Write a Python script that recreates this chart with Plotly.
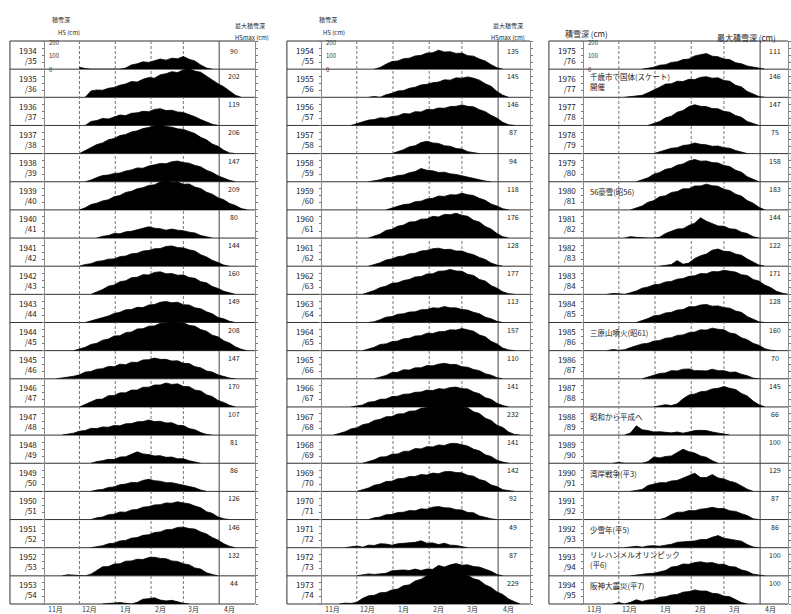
import plotly.graph_objects as go

# ---------------------------------------------------------------------------
# Winter seasons (first year of each season), shown as "1934 / 35" etc.
# ---------------------------------------------------------------------------
years_a = [1934, 1935, 1936, 1937, 1938, 1939, 1940, 1941, 1942, 1943,
           1944, 1945, 1946, 1947, 1948, 1949, 1950, 1951, 1952, 1953]
years_b = [1954, 1955, 1956, 1957, 1958, 1959, 1960, 1961, 1962, 1963,
           1964, 1965, 1966, 1967, 1968, 1969, 1970, 1971, 1972, 1973]
years_c = [1975, 1976, 1977, 1978, 1979, 1980, 1981, 1982, 1983, 1984,
           1985, 1986, 1987, 1988, 1989, 1990, 1991, 1992, 1993, 1994]

# Seasonal maximum snow depth HSmax (cm)
hsmax_a = [90, 202, 119, 206, 147, 209, 80, 144, 160, 149,
           208, 147, 170, 107, 81, 86, 126, 146, 132, 44]
hsmax_b = [135, 145, 146, 87, 94, 118, 176, 128, 177, 113,
           157, 110, 141, 232, 141, 142, 92, 49, 87, 229]
hsmax_c = [111, 146, 147, 75, 158, 183, 144, 122, 171, 128,
           160, 70, 145, 66, 100, 129, 87, 86, 100, 100]

# Snow depth HS (cm), one value every 5 days, first value on day `start`
# (day 0 = 1 November).
start_a = [30, 35, 35, 30, 35, 30, 45, 30, 40, 35, 25, 10, 30, 15, 40, 40, 40, 40, 15, 50]
depth_a = [
    [14, 4, 0, 0, 0, 0, 0, 0, 8, 30, 38, 52, 48, 62, 72, 64, 78, 74, 90, 70, 58, 30, 8, 0],
    [0, 45, 52, 50, 64, 70, 86, 95, 112, 108, 128, 140, 136, 160, 168, 182, 176, 195, 202, 186, 178, 150, 128, 96, 75, 42, 15, 0],
    [0, 28, 35, 50, 46, 62, 74, 70, 86, 90, 100, 98, 114, 119, 106, 108, 96, 92, 78, 62, 42, 25, 8, 0],
    [0, 22, 40, 64, 76, 98, 108, 128, 136, 154, 162, 178, 186, 200, 206, 192, 188, 176, 172, 156, 142, 116, 98, 68, 52, 24, 5, 0],
    [0, 12, 30, 44, 48, 58, 62, 76, 84, 98, 96, 112, 120, 130, 128, 142, 147, 136, 132, 116, 106, 82, 66, 42, 26, 10, 0],
    [0, 15, 38, 48, 64, 72, 94, 102, 124, 132, 150, 158, 174, 178, 198, 209, 196, 198, 182, 184, 162, 152, 126, 112, 86, 72, 46, 32, 10, 0],
    [0, 12, 18, 32, 30, 44, 48, 58, 68, 80, 70, 66, 56, 64, 56, 52, 42, 36, 18, 8, 0],
    [0, 12, 18, 34, 38, 50, 52, 68, 72, 88, 92, 108, 112, 124, 126, 140, 144, 132, 130, 116, 108, 82, 66, 42, 26, 8, 0],
    [0, 18, 34, 58, 66, 90, 96, 118, 122, 140, 138, 156, 160, 146, 148, 136, 138, 120, 114, 90, 82, 56, 42, 22, 10, 0],
    [0, 12, 22, 38, 46, 64, 72, 90, 92, 108, 106, 124, 128, 144, 149, 140, 144, 126, 124, 104, 98, 76, 62, 36, 26, 8, 0],
    [0, 12, 24, 44, 52, 74, 82, 104, 106, 128, 132, 154, 156, 174, 176, 194, 196, 208, 198, 198, 180, 174, 150, 138, 110, 98, 70, 54, 28, 10, 0],
    [0, 6, 8, 18, 28, 48, 52, 68, 72, 88, 86, 104, 100, 118, 116, 134, 136, 147, 138, 138, 126, 128, 110, 108, 86, 78, 56, 48, 28, 16, 5, 0],
    [0, 18, 32, 54, 56, 80, 82, 100, 100, 120, 120, 140, 140, 156, 156, 170, 160, 164, 146, 144, 120, 114, 86, 74, 46, 32, 12, 0],
    [0, 6, 14, 28, 32, 48, 46, 58, 56, 68, 66, 80, 82, 94, 96, 107, 96, 98, 86, 88, 70, 68, 46, 38, 18, 5, 0],
    [0, 12, 18, 28, 26, 44, 46, 64, 81, 66, 62, 52, 54, 42, 44, 32, 32, 18, 10, 0],
    [0, 10, 14, 28, 32, 48, 52, 64, 62, 78, 86, 76, 72, 62, 62, 52, 46, 32, 26, 10, 0],
    [0, 12, 18, 34, 38, 54, 52, 68, 72, 88, 92, 104, 106, 118, 116, 126, 118, 112, 96, 84, 56, 44, 18, 5, 0],
    [0, 6, 14, 28, 32, 48, 52, 68, 72, 88, 92, 108, 112, 128, 130, 144, 146, 136, 132, 112, 98, 72, 54, 28, 10, 0],
    [0, 8, 5, 0, 0, 12, 40, 64, 66, 84, 86, 104, 106, 118, 116, 130, 132, 124, 122, 106, 102, 86, 78, 56, 48, 22, 10, 0],
    [0, 5, 8, 10, 5, 0, 12, 34, 38, 44, 28, 22, 26, 14, 5, 0],
]

start_b = [45, 40, 25, 60, 40, 55, 40, 40, 35, 40, 35, 45, 25, 10, 35, 30, 40, 20, 30, 15]
depth_b = [
    [0, 12, 35, 54, 58, 74, 78, 94, 98, 114, 116, 135, 122, 124, 112, 114, 96, 92, 72, 58, 32, 10, 0],
    [0, 5, 0, 18, 28, 44, 48, 64, 72, 88, 92, 104, 108, 124, 122, 138, 136, 145, 136, 122, 96, 78, 42, 15, 0],
    [0, 12, 24, 38, 42, 54, 52, 64, 68, 84, 82, 98, 96, 114, 112, 124, 122, 134, 136, 146, 136, 132, 112, 98, 72, 52, 22, 5, 0],
    [0, 12, 28, 48, 56, 78, 87, 76, 72, 56, 52, 36, 32, 14, 5, 0],
    [0, 6, 14, 28, 32, 44, 48, 64, 72, 94, 82, 78, 66, 68, 56, 52, 42, 36, 22, 16, 5, 0],
    [0, 12, 22, 38, 42, 58, 62, 78, 82, 98, 96, 108, 106, 118, 108, 102, 82, 68, 42, 28, 8, 0],
    [0, 12, 28, 54, 62, 84, 92, 114, 116, 134, 136, 154, 150, 168, 166, 176, 162, 154, 126, 114, 82, 64, 32, 10, 0],
    [0, 12, 24, 44, 52, 68, 72, 88, 92, 108, 112, 124, 128, 118, 120, 108, 108, 92, 82, 62, 48, 22, 8, 0],
    [0, 12, 28, 48, 58, 78, 82, 98, 106, 124, 126, 144, 146, 164, 166, 177, 166, 164, 142, 134, 106, 94, 62, 44, 18, 5, 0],
    [0, 6, 20, 38, 42, 58, 62, 74, 76, 90, 92, 104, 102, 113, 104, 104, 92, 88, 72, 62, 38, 26, 8, 0],
    [0, 12, 24, 44, 48, 64, 68, 84, 88, 104, 106, 124, 122, 134, 136, 148, 146, 157, 146, 138, 112, 98, 66, 48, 18, 5, 0],
    [0, 12, 24, 44, 46, 64, 62, 78, 78, 94, 92, 104, 110, 102, 102, 86, 82, 66, 58, 36, 26, 8, 0],
    [0, 6, 14, 34, 38, 54, 56, 74, 76, 90, 92, 104, 106, 120, 116, 130, 126, 138, 141, 130, 128, 106, 94, 66, 54, 26, 10, 0],
    [0, 12, 24, 44, 52, 74, 82, 104, 112, 130, 132, 150, 152, 170, 172, 190, 196, 218, 222, 232, 222, 218, 200, 194, 166, 154, 120, 104, 70, 54, 22, 5, 0],
    [0, 12, 24, 44, 46, 64, 66, 84, 86, 104, 102, 118, 116, 130, 126, 140, 141, 132, 122, 100, 88, 60, 48, 22, 8, 0],
    [0, 12, 24, 44, 52, 70, 72, 90, 92, 106, 106, 120, 116, 130, 126, 140, 142, 134, 132, 114, 108, 84, 74, 46, 34, 12, 5, 0],
    [0, 12, 18, 34, 36, 50, 52, 64, 62, 76, 74, 88, 92, 84, 82, 70, 68, 50, 48, 26, 16, 5, 0],
    [0, 6, 12, 4, 18, 16, 28, 26, 18, 28, 32, 34, 38, 49, 32, 34, 22, 32, 18, 16, 8, 0],
    [0, 6, 14, 10, 16, 18, 36, 38, 42, 38, 48, 38, 48, 46, 74, 62, 78, 87, 76, 78, 66, 62, 46, 32, 10, 0],
    [0, 6, 4, 12, 40, 58, 62, 80, 82, 100, 106, 130, 136, 164, 176, 200, 206, 224, 229, 222, 222, 206, 202, 180, 168, 136, 118, 86, 68, 36, 16, 0],
]

start_c = [50, 35, 55, 60, 45, 40, 35, 65, 20, 45, 20, 50, 60, 35, 25, 40, 65, 35, 40, 25]
depth_c = [
    [0, 6, 14, 28, 32, 48, 52, 68, 72, 94, 100, 111, 92, 88, 72, 68, 46, 38, 22, 14, 3, 0],
    [0, 6, 10, 14, 32, 55, 72, 94, 96, 114, 112, 128, 126, 142, 146, 136, 138, 120, 114, 86, 74, 42, 22, 5, 0],
    [0, 12, 28, 54, 66, 94, 106, 134, 147, 136, 134, 120, 118, 100, 94, 70, 58, 28, 12, 0],
    [0, 12, 22, 38, 42, 58, 62, 75, 66, 62, 52, 54, 42, 38, 22, 12, 0],
    [0, 12, 28, 54, 66, 88, 96, 118, 126, 148, 158, 146, 148, 136, 134, 116, 108, 82, 68, 36, 16, 0],
    [0, 12, 28, 54, 66, 94, 100, 124, 130, 150, 150, 170, 170, 183, 172, 168, 146, 138, 112, 98, 66, 48, 18, 0],
    [0, 10, 5, 0, 0, 0, 6, 32, 48, 64, 66, 90, 106, 144, 120, 104, 86, 84, 66, 62, 42, 32, 10, 0],
    [0, 8, 12, 40, 14, 22, 55, 74, 86, 114, 122, 106, 104, 86, 78, 52, 32, 8, 0],
    [0, 6, 4, 0, 12, 24, 44, 52, 68, 72, 88, 92, 108, 112, 128, 132, 148, 146, 162, 160, 171, 162, 158, 140, 134, 106, 94, 66, 48, 22, 8, 0],
    [0, 12, 28, 48, 52, 68, 72, 88, 92, 112, 112, 124, 128, 116, 118, 106, 102, 82, 72, 42, 22, 5, 0],
    [0, 8, 3, 6, 22, 34, 48, 52, 68, 72, 88, 92, 108, 112, 128, 132, 148, 146, 160, 152, 148, 126, 118, 92, 78, 52, 38, 14, 3, 0],
    [0, 12, 22, 38, 42, 58, 56, 68, 70, 58, 58, 56, 68, 58, 58, 46, 48, 32, 22, 5, 0],
    [0, 10, 16, 10, 22, 58, 84, 92, 108, 112, 128, 132, 145, 132, 124, 96, 78, 42, 16, 0],
    [0, 15, 66, 38, 32, 22, 24, 18, 16, 22, 14, 22, 32, 34, 32, 22, 16, 5, 0],
    [0, 6, 0, 0, 0, 0, 12, 45, 38, 48, 52, 78, 100, 82, 72, 52, 42, 18, 0],
    [0, 6, 14, 42, 52, 62, 62, 74, 78, 94, 108, 129, 98, 98, 120, 96, 88, 72, 62, 36, 16, 0],
    [0, 12, 35, 52, 52, 64, 62, 74, 78, 87, 78, 78, 62, 58, 42, 28, 5, 0],
    [0, 6, 10, 4, 12, 14, 10, 18, 24, 38, 42, 44, 48, 58, 58, 74, 86, 68, 62, 52, 46, 22, 5, 0],
    [0, 6, 10, 16, 18, 28, 38, 62, 68, 84, 82, 94, 100, 92, 94, 82, 82, 66, 62, 42, 32, 12, 5, 0],
    [0, 10, 0, 12, 30, 18, 28, 32, 48, 52, 64, 68, 84, 88, 100, 92, 92, 76, 72, 56, 52, 28, 10, 0],
]

# Notes written into the third column (row index -> text)
notes_c = {
    1: "千歳市で国体(スケート)<br>開催",
    5: "56豪雪(昭56)",
    10: "三原山噴火(昭61)",
    13: "昭和から平成へ",
    15: "湾岸戦争(平3)",
    17: "少雪年(平5)",
    18: "リレハンメルオリンピック<br>(平6)",
    19: "阪神大震災(平7)",
}

month_ticks = [9, 39, 70, 100, 129, 160]
month_labels = ["11月", "12月", "1月", "2月", "3月", "4月"]
month_starts = [30, 61, 92, 120]   # 1 Dec, 1 Jan, 1 Feb, 1 Mar
april_first = 151
scale_vals = [200, 100, 0]

# ---------------------------------------------------------------------------
W, H = 791, 614
TOP, BOTTOM, ROWS = 41, 604, 20
RH = (BOTTOM - TOP) / ROWS
FONT = "Noto Sans CJK JP, Noto Sans, sans-serif"


def px(x):
    return x / W


def py(y):
    return 1 - y / H


panels = [
    dict(years=years_a, hsmax=hsmax_a, start=start_a, depth=depth_a,
         left=10, nov1=45, apr1=220, right=256),
    dict(years=years_b, hsmax=hsmax_b, start=start_b, depth=depth_b,
         left=288, nov1=323, apr1=500, right=532),
    dict(years=years_c, hsmax=hsmax_c, start=start_c, depth=depth_c,
         left=551, nov1=586, apr1=763, right=791),
]

fig = go.Figure()
layout = {}
shapes = []
annotations = []

for p, cfg in enumerate(panels):
    xname = "x" if p == 0 else f"x{p + 1}"
    xkey = "xaxis" if p == 0 else f"xaxis{p + 1}"
    ppd = (cfg["apr1"] - cfg["nov1"]) / april_first
    right = min(cfg["right"], W)
    xmax = (right - cfg["nov1"]) / ppd

    layout[xkey] = dict(
        domain=[px(cfg["nov1"]), px(right)], range=[0, xmax],
        anchor=f"y{p * ROWS + ROWS}", showgrid=False, zeroline=False,
        showline=False, ticks="", showticklabels=False, fixedrange=True,
    )

    for i in range(ROWS):
        n = p * ROWS + i + 1
        ykey = "yaxis" if n == 1 else f"yaxis{n}"
        yname = "y" if n == 1 else f"y{n}"
        row_top = TOP + i * RH
        row_bot = row_top + RH
        if i == 0:
            dom = [py(row_bot), py(row_top)]
            yr = [0, 200]
        else:
            # let tall seasons rise a little into the row above
            dom = [py(row_bot), py(row_top - RH * 0.25)]
            yr = [0, 250]
        layout[ykey] = dict(
            domain=dom, range=yr, anchor=xname, showgrid=False, zeroline=False,
            showline=True, linecolor="#8a8a8a", linewidth=1, mirror="ticks",
            ticks="outside", ticklen=2, tickcolor="#777",
            tickvals=[0, 50, 100, 150, 200], showticklabels=False,
            fixedrange=True,
        )

        vals = cfg["depth"][i]
        days = [cfg["start"][i] + 5 * k for k in range(len(vals))]
        fig.add_trace(go.Scatter(
            x=days, y=vals, mode="lines", fill="tozeroy",
            line=dict(color="black", width=0.8), fillcolor="black",
            xaxis=xname, yaxis=yname, hoverinfo="skip", showlegend=False,
        ))

        y0 = cfg["years"][i]
        annotations.append(dict(
            xref="paper", yref="paper", x=px(cfg["nov1"] - 6), y=py(row_top + RH / 2),
            text=f"{y0}<br>/{(y0 + 1) % 100:02d}", showarrow=False,
            xanchor="right", yanchor="middle", align="right",
            font=dict(size=8, color="#222", family=FONT),
        ))
        annotations.append(dict(
            xref=xname, yref="paper", x=april_first + 15 / ppd,
            y=py(row_top + (10 if i == 0 else 7)),
            text=str(cfg["hsmax"][i]), showarrow=False, xanchor="center",
            yanchor="middle", font=dict(size=7, color="#222", family=FONT),
        ))

    # 0 / 100 / 200 cm scale inside the first row
    first_y = "y" if p == 0 else f"y{p * ROWS + 1}"
    for v in scale_vals:
        annotations.append(dict(
            xref=xname, yref=first_y, x=2 / ppd, y=min(v, 188), text=str(v),
            showarrow=False, xanchor="left", yanchor="middle",
            font=dict(size=6, color="#333", family=FONT),
        ))

    # month names under the panel
    for d, lab in zip(month_ticks, month_labels):
        annotations.append(dict(
            xref=xname, yref="paper", x=d, y=py(609), text=lab,
            showarrow=False, xanchor="center", yanchor="middle",
            font=dict(size=7, color="#333", family=FONT),
        ))

    # row separators and outer frame
    for i in range(ROWS + 1):
        yy = py(TOP + i * RH)
        shapes.append(dict(type="line", xref="paper", yref="paper",
                           x0=px(cfg["left"]), x1=px(right), y0=yy, y1=yy,
                           line=dict(color="#333", width=1), layer="below"))
    shapes.append(dict(type="line", xref="paper", yref="paper",
                       x0=px(cfg["left"]), x1=px(cfg["left"]),
                       y0=py(BOTTOM), y1=py(TOP),
                       line=dict(color="#333", width=1), layer="below"))
    # month boundaries
    for d in month_starts:
        shapes.append(dict(type="line", xref=xname, yref="paper", x0=d, x1=d,
                           y0=py(BOTTOM), y1=py(TOP),
                           line=dict(color="#777", width=1, dash="3px,2px"),
                           layer="below"))
    shapes.append(dict(type="line", xref=xname, yref="paper",
                       x0=april_first, x1=april_first, y0=py(BOTTOM), y1=py(TOP),
                       line=dict(color="#444", width=1), layer="below"))

# column headings
head_small = dict(size=6, color="#222", family=FONT)
for cx_hs, cx_max in [(50, 234), (329, 510)]:
    annotations += [
        dict(xref="paper", yref="paper", x=px(cx_hs), y=py(13), text="積雪深",
             showarrow=False, font=head_small),
        dict(xref="paper", yref="paper", x=px(cx_hs + 6), y=py(26), text="HS (cm)",
             showarrow=False, font=head_small),
        dict(xref="paper", yref="paper", x=px(cx_max), y=py(19), text="最大積雪深",
             showarrow=False, font=head_small),
        dict(xref="paper", yref="paper", x=px(cx_max), y=py(31), text="HSmax (cm)",
             showarrow=False, font=head_small),
    ]
head_big = dict(size=8, color="#222", family=FONT)
annotations += [
    dict(xref="paper", yref="paper", x=px(565), y=py(26), text="積雪深 (cm)",
         showarrow=False, xanchor="left", font=head_big),
    dict(xref="paper", yref="paper", x=px(718), y=py(30), text="最大積雪深 (cm)",
         showarrow=False, xanchor="left", font=head_big),
]

# event notes in the third column
for i, txt in notes_c.items():
    row_top = TOP + i * RH
    cy = row_top + (12 if "<br>" in txt else 10)
    annotations.append(dict(
        xref="paper", yref="paper", x=px(590), y=py(cy), text=txt,
        showarrow=False, xanchor="left", yanchor="middle", align="left",
        font=dict(size=7.5, color="#222", family=FONT),
    ))

fig.update_layout(
    width=W, height=H, margin=dict(l=0, r=0, t=0, b=0),
    paper_bgcolor="white", plot_bgcolor="rgba(0,0,0,0)",
    showlegend=False, shapes=shapes, annotations=annotations,
    font=dict(family=FONT), **layout,
)

fig.write_html("out.html")
